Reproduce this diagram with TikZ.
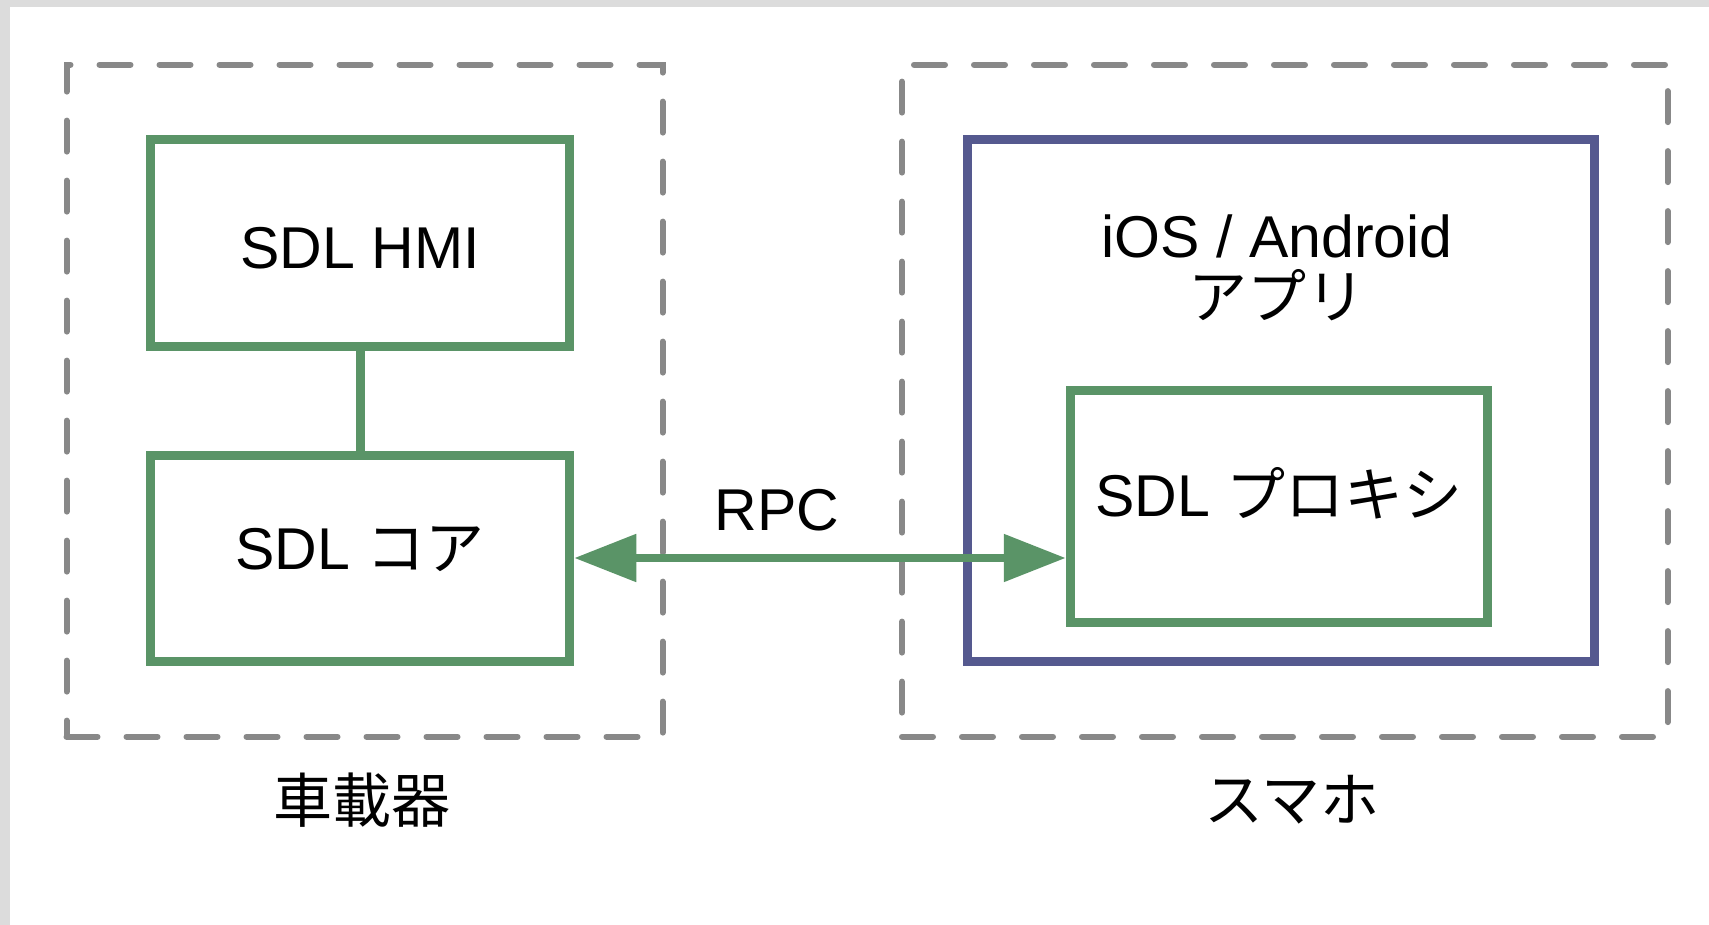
\documentclass[tikz,border=0pt]{standalone}
\usepackage{fontspec}
\setmainfont{Liberation Sans}
\newfontfamily\jp{Noto Sans CJK JP}
\usetikzlibrary{arrows.meta}

\definecolor{sdlgreen}{HTML}{5A9467}
\definecolor{appblue}{HTML}{55598F}
\definecolor{framegray}{HTML}{888888}
\definecolor{pagegray}{HTML}{DCDCDC}

\begin{document}
\begin{tikzpicture}[
    x=1pt, y=-1pt,
    every node/.style={font=\fontsize{59}{61}\selectfont},
    device/.style={draw=framegray, line width=6pt, dash pattern=on 31pt off 29pt,
        line cap=round, minimum height=672pt},
    module/.style={draw=sdlgreen, line width=9pt, text height=42pt, text depth=0pt},
    platform/.style={draw=appblue, line width=9pt},
    link/.style={sdlgreen, line width=9pt},
    rpc/.style={sdlgreen, line width=8.5pt,
        {Triangle[length=62pt,width=46pt]}-{Triangle[length=62pt,width=46pt]}}
]

% page
\fill[pagegray] (0,0) rectangle (1709,925);
\fill[white] (9.5,7) rectangle (1709,925);
\useasboundingbox (0,0) rectangle (1709,925);

% car side
\node[device, minimum width=596pt] (car) at (364.5,400.6) {};
\node[module, minimum width=419.5pt, minimum height=207pt, text height=51pt] (hmi) at (360,243.5) {SDL HMI};
\node[module, minimum width=419.5pt, minimum height=206pt, text depth=19pt] (core) at (360,558) {SDL {\jp コア}};
\node (carname) at (362,800) {\jp 車載器};

% phone side
\node[device, minimum width=765.5pt] (phone) at (1284.75,400.6) {};
\node[platform, minimum width=627pt, minimum height=521.5pt] (app) at (1280.5,400.3) {};
\node[align=center] (appname) at (1277,268) {iOS / Android\\{\jp アプリ}};
\node[module, minimum width=417.5pt, minimum height=231.5pt, text depth=22pt] (proxy) at (1279,506.7) {SDL {\jp プロキシ}};
\node (phonename) at (1292,800) {\jp スマホ};

% connections
\draw[link] (hmi) -- (core);
\draw[rpc] (core.east) -- (core.east -| proxy.west);
\node (rpclabel) at (777,510) {RPC};

\end{tikzpicture}
\end{document}
